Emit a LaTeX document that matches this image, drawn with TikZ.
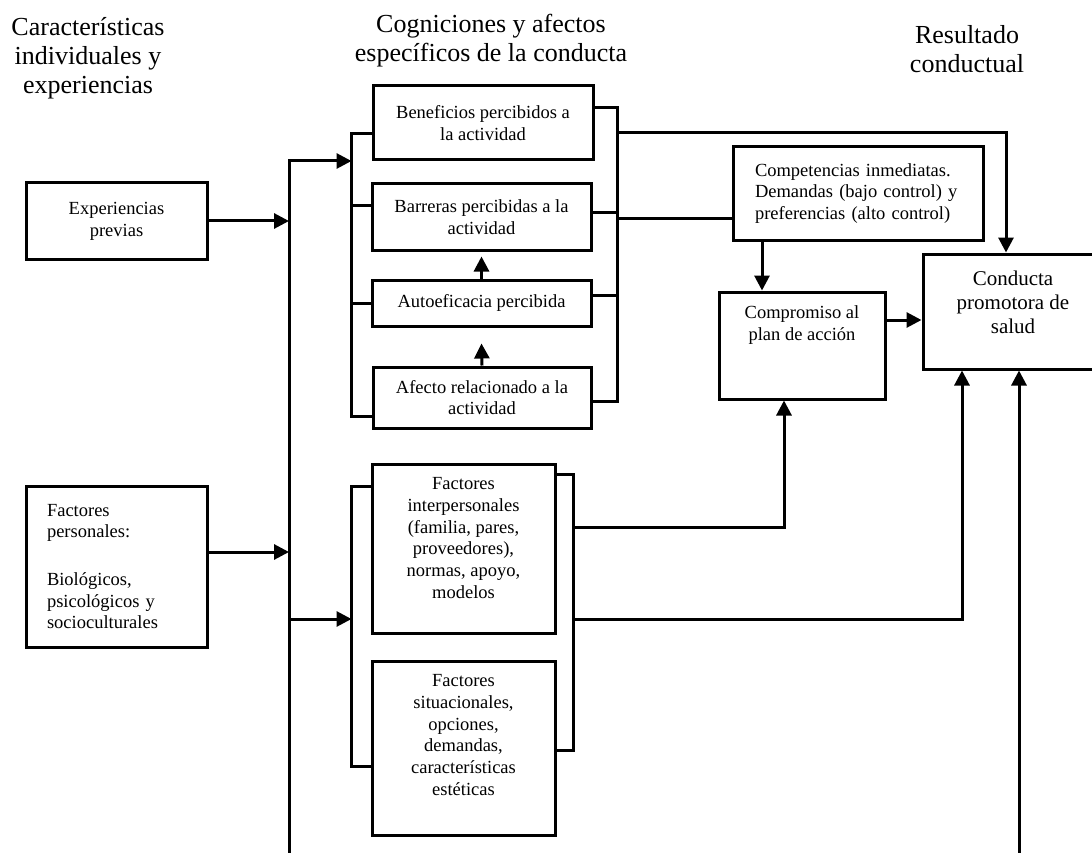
\documentclass[tikz,border=0pt]{standalone}
\usepackage{fontspec}
\setmainfont{Liberation Serif}
\usepackage{tikz}
\usetikzlibrary{arrows.meta}

\newcommand{\arriba}[3]{\parbox[c][#2][t]{#1}{\centering #3}}

\begin{document}
\begin{tikzpicture}[
            x = 1pt, y = -1pt, % pixel units, y downwards
            > = {Triangle[length=15pt, width=15pt]}, % arrow head style
            line width = 3pt,
            every node/.style = {font=\fontsize{18.5}{21.7}\selectfont}
        ]

        \tikzstyle{caja}=[
            draw = black,
            rectangle,
            inner sep = 0pt,
            align = center
        ]
        \tikzstyle{titulo}=[
            font = \fontsize{26}{29}\selectfont,
            align = center,
            inner sep = 0pt
        ]

        \useasboundingbox (0,0) rectangle (1092,853);
        \clip (0,0) rectangle (1092,853);

        \node[titulo] (hcar) at (88,58) {Características\\individuales y\\experiencias};
        \node[titulo] (hcog) at (491,41) {Cogniciones y afectos\\específicos de la conducta};
        \node[titulo] (hres) at (967,49) {Resultado\\conductual};

        \node[caja, minimum width=181pt, minimum height=76pt] (exper) at (116.5,221) {Experiencias\\previas};
        \node[caja, minimum width=181pt, minimum height=161pt, align=left, text width=139pt] (personal) at (116.5,566.5) {Factores\\personales:\\[26pt]Biológicos,\\psicológicos y\\socioculturales};

        \node[caja, minimum width=220pt, minimum height=74pt] (benef) at (483,123) {Beneficios percibidos a\\la actividad};
        \node[caja, minimum width=219pt, minimum height=66pt] (barreras) at (481.5,217) {Barreras percibidas a la\\actividad};
        \node[caja, minimum width=219pt, minimum height=46pt] (autoef) at (481.5,303) {Autoeficacia percibida};
        \node[caja, minimum width=218pt, minimum height=61pt] (afecto) at (482,397.5) {Afecto relacionado a la\\actividad};

        \node[caja, minimum width=183pt, minimum height=169pt] (interp) at (463.5,548.5) {\arriba{170pt}{142pt}{Factores\\interpersonales\\(familia, pares,\\proveedores),\\normas, apoyo,\\modelos}};
        \node[caja, minimum width=183pt, minimum height=174pt] (situac) at (463.5,748) {\arriba{170pt}{147pt}{Factores\\situacionales,\\opciones,\\demandas,\\características\\estéticas}};

        \node[caja, minimum width=250pt, minimum height=93pt, align=left, text width=206pt] (compet) at (858,193.5) {Competencias inmediatas.\\Demandas (bajo control) y\\preferencias (alto control)};
        \node[caja, minimum width=166pt, minimum height=107pt] (compro) at (802,345.5) {\arriba{150pt}{80pt}{Compromiso al\\plan de acción}};
        \node[caja, minimum width=180pt, minimum height=115pt, font=\fontsize{21}{24}\selectfont] (conducta) at (1013,311.5) {\arriba{165pt}{82pt}{Conducta\\promotora de\\salud}};

        \coordinate (vtop) at (289,161);
        \coordinate (vbot) at (289,860);
        \coordinate (vder) at (1019,860);
        \coordinate (v2) at (289,619);

        % left column
        \draw[->] (exper.east) -- (exper.east -| vtop);
        \draw[->] ([yshift=14.5pt]personal.east) -- ([yshift=14.5pt]personal.east -| vtop);

        % upper brackets
        \draw ([yshift=-11pt]benef.west) -- ++(-20,0) coordinate (bsi) |- ([yshift=-18.5pt]afecto.west);
        \draw ([yshift=11pt]barreras.west) -- ([yshift=11pt]barreras.west -| bsi);
        \draw (autoef.west) -- (autoef.west -| bsi);
        \draw[->] (vbot) -- (vtop) -- (vtop -| bsi);

        \draw ([yshift=15pt]benef.east) -- ++(23,0) coordinate (bsd) |- ([yshift=-3.5pt]afecto.east);
        \draw ([yshift=4pt]barreras.east) -- ([yshift=4pt]barreras.east -| bsd);
        \draw ([yshift=8pt]autoef.east) -- ([yshift=8pt]autoef.east -| bsd);

        \draw[->] (afecto.north) -- ([yshift=-16pt]autoef.south);
        \draw[->] (autoef.north) -- ([yshift=-5pt]barreras.south);

        % lower brackets
        \draw ([yshift=62.5pt]interp.west) -- ++(-19,0) coordinate (bii) |- ([yshift=-18pt]situac.west);
        \draw[->] (v2) -- (v2 -| bii);
        \draw ([yshift=74.5pt]interp.east) -- ++(17,0) coordinate (bid) |- ([yshift=-2pt]situac.east);

        % to the outcome
        \draw[->] ([yshift=-25pt]bsd) -| ([xshift=-7pt]conducta.north);
        \draw ([yshift=-25.5pt]compet.west -| bsd) -- ([yshift=-25.5pt]compet.west);
        \draw[->] ([xshift=-40pt]compro.north |- compet.south) -- ([xshift=-40pt]compro.north);
        \draw[->] ([yshift=25.5pt]compro.east) -- ([yshift=25.5pt]compro.east -| conducta.west);
        \draw[->] ([yshift=21.5pt]interp.east -| bid) -| ([xshift=-18pt]compro.south);
        \draw[->] ([yshift=-70.5pt]interp.east -| bid) -| ([xshift=-51pt]conducta.south);
        \draw[->] (vder) -- ([xshift=6pt]conducta.south);

        %\draw[red] (0,0) grid[step=50] (1092,853);
    \end{tikzpicture}
\end{document}
